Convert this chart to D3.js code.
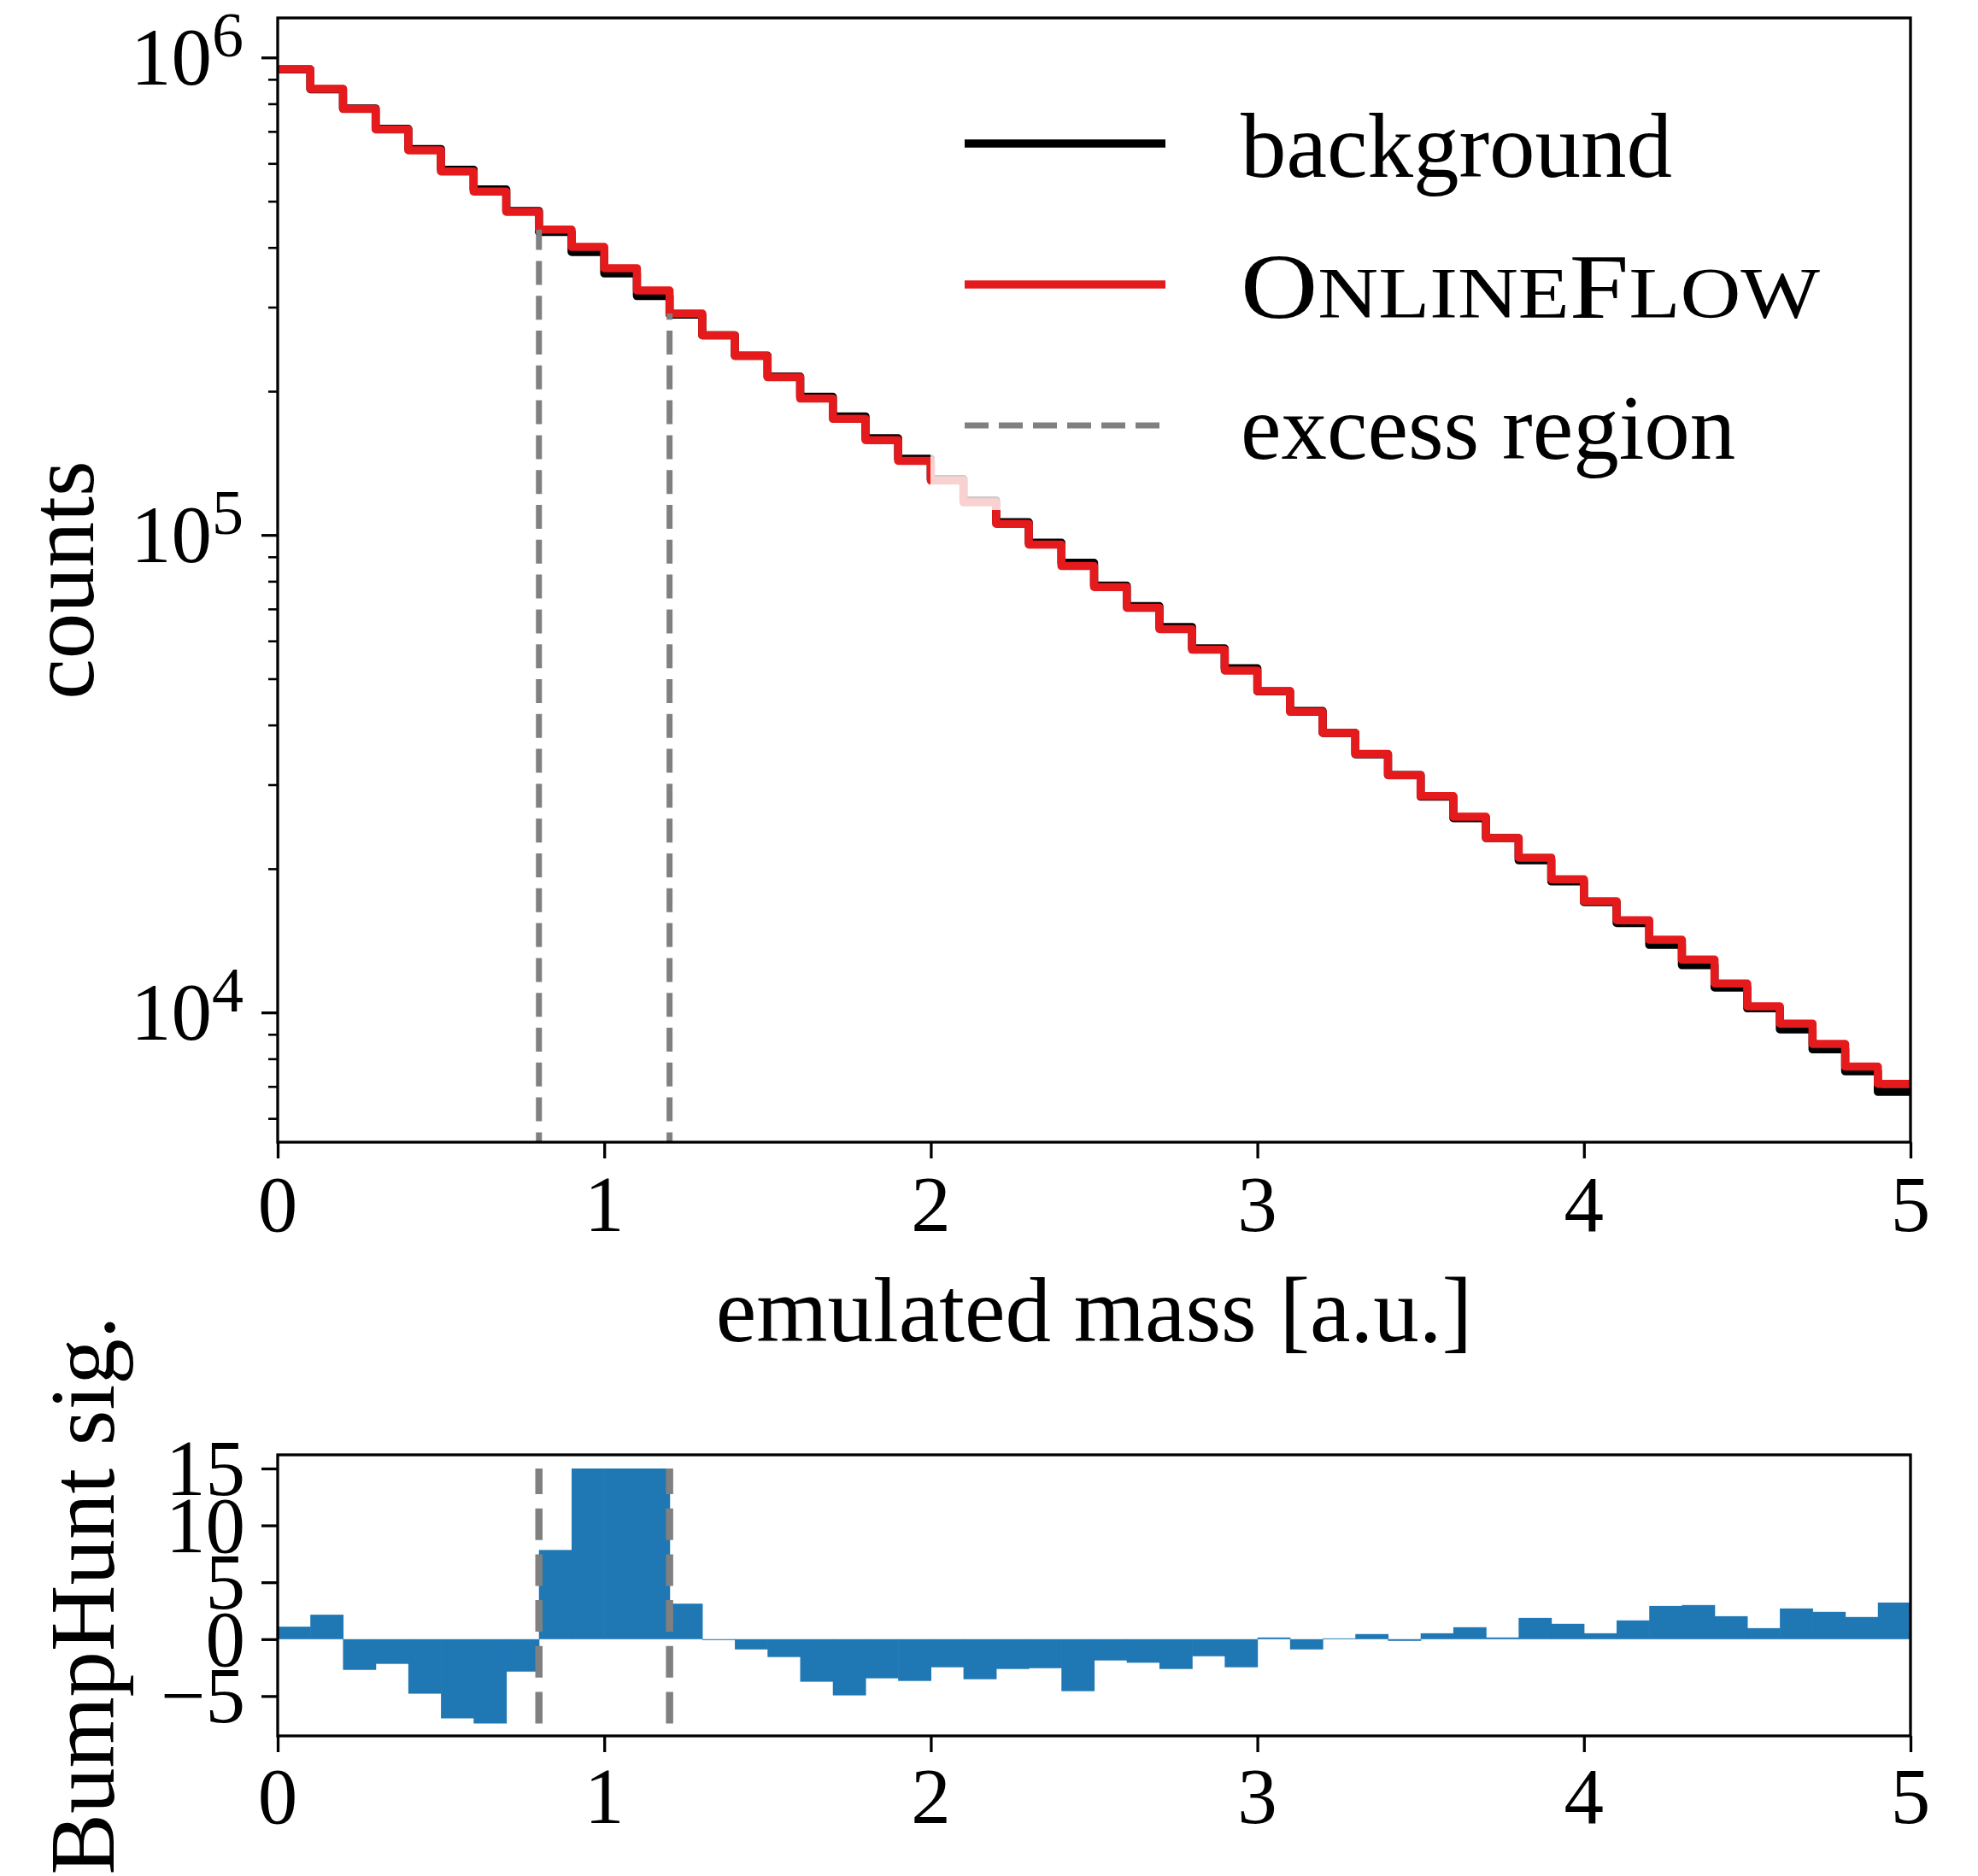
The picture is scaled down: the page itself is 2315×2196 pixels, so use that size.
<!DOCTYPE html>
<html>
<head>
<meta charset="utf-8">
<script src="https://cdn.jsdelivr.net/npm/d3@7"></script>
<style>
  body { margin: 0; background: #fff; }
  svg { display: block; }
  text { font-family: "Liberation Serif", serif; fill: #000; }
</style>
</head>
<body>
<div id="chart"></div>
<script>
// 50 bins of width 0.1 on the emulated mass axis
const binEdges = d3.range(51).map(i => i / 10);

// counts per bin
const background = [
  9.44e5, 8.58e5, 7.82e5, 7.09e5, 6.43e5, 5.82e5, 5.29e5, 4.77e5, 4.31e5, 3.915e5,
  3.53e5, 3.164e5, 2.893e5, 2.62e5, 2.374e5, 2.147e5, 1.946e5, 1.771e5, 1.594e5, 1.444e5,
  1.309e5, 1.182e5, 1.0635e5, 9.63e4, 8.744e4, 7.832e4, 7.095e4, 6.416e4, 5.786e4, 5.256e4,
  4.707e4, 4.279e4, 3.849e4, 3.472e4, 3.143e4, 2.831e4, 2.553e4, 2.318e4, 2.083e4, 1.881e4,
  1.703e4, 1.539e4, 1.385e4, 1.256e4, 1.128e4, 1.020e4, 9.22e3, 8.37e3, 7.53e3, 6.82e3
];
const onlineFlow = [
  9.45e5, 8.60e5, 7.80e5, 7.07e5, 6.39e5, 5.77e5, 5.24e5, 4.75e5, 4.36e5, 4.01e5,
  3.62e5, 3.25e5, 2.91e5, 2.62e5, 2.37e5, 2.14e5, 1.93e5, 1.75e5, 1.58e5, 1.43e5,
  1.30e5, 1.17e5, 1.055e5, 9.55e4, 8.61e4, 7.78e4, 7.04e4, 6.35e4, 5.75e4, 5.20e4,
  4.71e4, 4.26e4, 3.85e4, 3.48e4, 3.14e4, 2.84e4, 2.57e4, 2.32e4, 2.11e4, 1.90e4,
  1.71e4, 1.56e4, 1.42e4, 1.29e4, 1.15e4, 1.03e4, 9.48e3, 8.59e3, 7.70e3, 7.09e3
];

// bump hunt significance per bin (lower panel)
const bumpSig = [
  1.1, 2.15, -2.7, -2.17, -4.79, -6.96, -7.41, -2.85, 7.84, 15,
  15, 15, 3.12, -0.08, -0.9, -1.57, -3.74, -4.94, -3.44, -3.67,
  -2.47, -3.52, -2.62, -2.55, -4.57, -1.87, -2.07, -2.62, -1.5, -2.47,
  0.15, -0.9, 0.07, 0.45, -0.15, 0.52, 1.05, 0.15, 1.87, 1.35,
  0.52, 1.65, 2.92, 3.0, 2.02, 0.97, 2.7, 2.4, 1.95, 3.22
];

const excessRegion = [0.8, 1.2];
const vlineFloor = 5000;

const xTicks = [0, 1, 2, 3, 4, 5];
const yMajor = [1e4, 1e5, 1e6];
const yMinor = [6e3, 7e3, 8e3, 9e3,
  2e4, 3e4, 4e4, 5e4, 6e4, 7e4, 8e4, 9e4,
  2e5, 3e5, 4e5, 5e5, 6e5, 7e5, 8e5, 9e5];
const sigTicks = [-5, 0, 5, 10, 15];

const legendItems = [
  { label: "background", color: "#000000", dash: null },
  { label: "OnlineFlow", color: "#e41a1c", dash: null },
  { label: "excess region", color: "#808080", dash: "28,12" }
];

const width = 2315;
const height = 2196;
const mainBox = { left: 325, right: 2236, top: 21, bottom: 1337 };
const sigBox = { left: 325, right: 2236, top: 1703, bottom: 2032 };

const red = "#e41a1c";
const blue = "#1f77b4";
const gray = "#808080";
const tickFont = 93;
const powFont = 95;
const supFont = 74;
const labelFont = 107;

const svg = d3.select("#chart").append("svg")
  .attr("width", width)
  .attr("height", height)
  .attr("viewBox", `0 0 ${width} ${height}`);

const xScale = d3.scaleLinear().domain([0, 5]).range([mainBox.left, mainBox.right]);
const yScale = d3.scaleLog().domain([5350, 1.21e6]).range([mainBox.bottom, mainBox.top]);
const x2 = d3.scaleLinear().domain([0, 5]).range([sigBox.left, sigBox.right]);
const y2 = d3.scaleLinear().domain([-8.5, 16.2]).range([sigBox.bottom, sigBox.top]);

const defs = svg.append("defs");
defs.append("clipPath").attr("id", "clipTop").append("rect")
  .attr("x", mainBox.left).attr("y", mainBox.top)
  .attr("width", mainBox.right - mainBox.left).attr("height", mainBox.bottom - mainBox.top);
defs.append("clipPath").attr("id", "clipBot").append("rect")
  .attr("x", sigBox.left).attr("y", sigBox.top)
  .attr("width", sigBox.right - sigBox.left).attr("height", sigBox.bottom - sigBox.top);

// ---------- top panel ----------
const stepLine = d3.line()
  .x(d => xScale(d[0]))
  .y(d => yScale(d[1]))
  .curve(d3.curveStepAfter);

function stepPoints(vals) {
  const pts = vals.map((v, i) => [binEdges[i], v]);
  pts.push([binEdges[binEdges.length - 1], vals[vals.length - 1]]);
  return pts;
}

const plotTop = svg.append("g").attr("clip-path", "url(#clipTop)");

plotTop.append("path")
  .attr("d", stepLine(stepPoints(background)))
  .attr("fill", "none")
  .attr("stroke", "#000")
  .attr("stroke-width", 9.5)
  .attr("stroke-linejoin", "round");

plotTop.append("path")
  .attr("d", stepLine(stepPoints(onlineFlow)))
  .attr("fill", "none")
  .attr("stroke", red)
  .attr("stroke-width", 9.5)
  .attr("stroke-linejoin", "round");

// excess region markers reach up to the OnlineFlow histogram
excessRegion.forEach(xv => {
  const bin = Math.round(xv * 10);
  plotTop.append("line")
    .attr("x1", xScale(xv)).attr("x2", xScale(xv))
    .attr("y1", yScale(vlineFloor)).attr("y2", yScale(onlineFlow[bin]))
    .attr("stroke", gray)
    .attr("stroke-width", 7)
    .attr("stroke-dasharray", "28,12.8");
});

// axes
const tickStyle = (g, w) => {
  g.select(".domain").remove();
  g.selectAll(".tick line").attr("stroke", "#000").attr("stroke-width", w);
  g.selectAll(".tick text").remove();
};

svg.append("g")
  .attr("transform", `translate(${mainBox.left},0)`)
  .call(d3.axisLeft(yScale).tickValues(yMinor).tickSize(11).tickFormat(""))
  .call(g => tickStyle(g, 2.6));

svg.append("g")
  .attr("transform", `translate(${mainBox.left},0)`)
  .call(d3.axisLeft(yScale).tickValues(yMajor).tickSize(19).tickFormat(""))
  .call(g => tickStyle(g, 3.3));

svg.append("g")
  .attr("transform", `translate(0,${mainBox.bottom})`)
  .call(d3.axisBottom(xScale).tickValues(xTicks).tickSize(19).tickFormat(""))
  .call(g => tickStyle(g, 3.3));

yMajor.forEach(v => {
  const t = svg.append("text")
    .attr("x", 285)
    .attr("y", yScale(v) + 32)
    .attr("text-anchor", "end")
    .attr("font-size", powFont);
  t.append("tspan").text("10");
  t.append("tspan")
    .attr("font-size", supFont)
    .attr("dy", -33)
    .text(String(Math.round(Math.log10(v))));
});

svg.selectAll(".xlab-top").data(xTicks).join("text")
  .attr("class", "xlab-top")
  .attr("x", d => xScale(d))
  .attr("y", mainBox.bottom + 104)
  .attr("text-anchor", "middle")
  .attr("font-size", tickFont)
  .text(d => d);

svg.append("rect")
  .attr("x", mainBox.left).attr("y", mainBox.top)
  .attr("width", mainBox.right - mainBox.left).attr("height", mainBox.bottom - mainBox.top)
  .attr("fill", "none").attr("stroke", "#000").attr("stroke-width", 3.3);

svg.append("text")
  .attr("x", (mainBox.left + mainBox.right) / 2)
  .attr("y", 1570)
  .attr("text-anchor", "middle")
  .attr("font-size", labelFont)
  .text("emulated mass [a.u.]");

svg.append("text")
  .attr("transform", `translate(109,${(mainBox.top + mainBox.bottom) / 2}) rotate(-90)`)
  .attr("text-anchor", "middle")
  .attr("font-size", labelFont)
  .text("counts");

// legend (white, semi-transparent, upper right)
const leg = svg.append("g");
leg.append("rect")
  .attr("x", 1089).attr("y", 71)
  .attr("width", 2186 - 1089).attr("height", 597 - 71)
  .attr("rx", 20)
  .attr("fill", "#fff")
  .attr("fill-opacity", 0.8);

legendItems.forEach((d, i) => {
  const cy = 168 + i * 165;
  leg.append("line")
    .attr("x1", 1129).attr("x2", 1364)
    .attr("y1", cy).attr("y2", cy)
    .attr("stroke", d.color)
    .attr("stroke-width", d.dash ? 7 : 9.5)
    .attr("stroke-dasharray", d.dash);
  const t = leg.append("text")
    .attr("x", 1452)
    .attr("y", cy + 39)
    .attr("font-size", labelFont);
  if (d.label === "OnlineFlow") {
    t.attr("textLength", 678).attr("lengthAdjust", "spacingAndGlyphs");
    t.append("tspan").text("O");
    t.append("tspan").attr("font-size", 84).text("NLINE");
    t.append("tspan").text("F");
    t.append("tspan").attr("font-size", 84).text("LOW");
  } else {
    t.text(d.label);
  }
});

// ---------- bottom panel ----------
const plotBot = svg.append("g").attr("clip-path", "url(#clipBot)");

plotBot.selectAll("rect.bar").data(bumpSig).join("rect")
  .attr("class", "bar")
  .attr("x", (d, i) => x2(binEdges[i]))
  .attr("width", (d, i) => x2(binEdges[i + 1]) - x2(binEdges[i]) + 0.6)
  .attr("y", d => y2(Math.max(0, d)))
  .attr("height", d => Math.abs(y2(d) - y2(0)))
  .attr("fill", blue);

excessRegion.forEach(xv => {
  plotBot.append("line")
    .attr("x1", x2(xv)).attr("x2", x2(xv))
    .attr("y1", y2(d3.min(bumpSig))).attr("y2", y2(d3.max(bumpSig)))
    .attr("stroke", gray)
    .attr("stroke-width", 8.5)
    .attr("stroke-dasharray", "37,16.7");
});

svg.append("g")
  .attr("transform", `translate(${sigBox.left},0)`)
  .call(d3.axisLeft(y2).tickValues(sigTicks).tickSize(19).tickFormat(""))
  .call(g => tickStyle(g, 3.3));

svg.append("g")
  .attr("transform", `translate(0,${sigBox.bottom})`)
  .call(d3.axisBottom(x2).tickValues(xTicks).tickSize(19).tickFormat(""))
  .call(g => tickStyle(g, 3.3));

svg.selectAll(".ylab-bot").data(sigTicks).join("text")
  .attr("class", "ylab-bot")
  .attr("x", 287)
  .attr("y", d => y2(d) + 31)
  .attr("text-anchor", "end")
  .attr("font-size", tickFont)
  .text(d => d < 0 ? "\u2212" + Math.abs(d) : d);

svg.selectAll(".xlab-bot").data(xTicks).join("text")
  .attr("class", "xlab-bot")
  .attr("x", d => x2(d))
  .attr("y", sigBox.bottom + 102)
  .attr("text-anchor", "middle")
  .attr("font-size", tickFont)
  .text(d => d);

svg.append("rect")
  .attr("x", sigBox.left).attr("y", sigBox.top)
  .attr("width", sigBox.right - sigBox.left).attr("height", sigBox.bottom - sigBox.top)
  .attr("fill", "none").attr("stroke", "#000").attr("stroke-width", 3.3);

svg.append("text")
  .attr("transform", `translate(133,${(sigBox.top + sigBox.bottom) / 2}) rotate(-90)`)
  .attr("text-anchor", "middle")
  .attr("font-size", labelFont)
  .text("BumpHunt sig.");
</script>
</body>
</html>
